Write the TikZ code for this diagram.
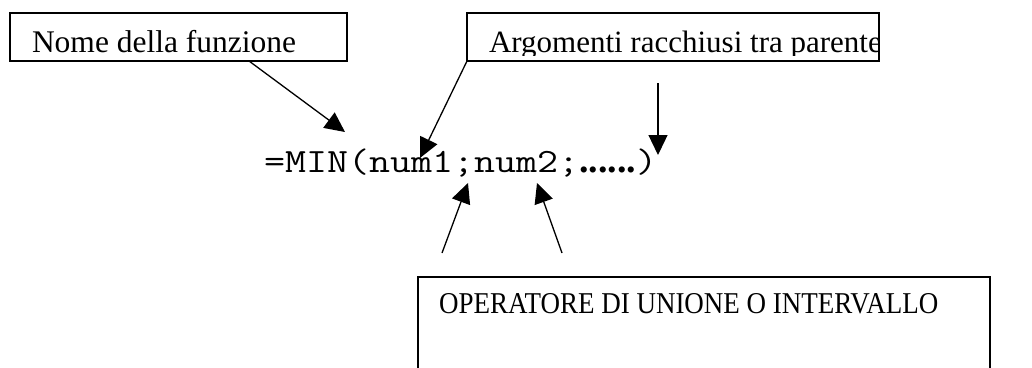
\documentclass[tikz,border=0pt]{standalone}
\usepackage{fontspec}
\setmainfont{Liberation Serif}
\usetikzlibrary{arrows.meta}
\begin{document}
\begin{tikzpicture}[x=1pt,y=-1pt,
  box/.style={draw,line width=1.4pt,inner sep=0pt,outer sep=0pt,anchor=north west},
  lbl/.style={anchor=base west,inner sep=0pt,outer sep=0pt},
  arr/.style={line width=1.3pt,-{Triangle[length=20pt,width=19pt]}}]
\useasboundingbox (0,0) rectangle (1032,367);
\clip (0,0) rectangle (1032,367);
\fill[white] (0,0) rectangle (1032,367);
% boxes
\node[box,minimum width=337pt,minimum height=48pt] (nome) at (10,13) {};
\node[box,minimum width=412pt,minimum height=48pt] (argo) at (467,13) {};
\node[box,minimum width=572pt,minimum height=130pt] (oper) at (418,277) {};
% box texts (clipped by the boxes)
\begin{scope}
  \clip (10,13) rectangle (346,54);
  \node[lbl] (nomet) at (32,52) {\fontsize{31.5}{36}\selectfont Nome della funzione};
\end{scope}
\begin{scope}
  \clip (467,13) rectangle (878,55);
  \node[lbl] (argot) at (489,52) {\fontsize{31}{36}\selectfont Argomenti racchiusi tra parentesi};
\end{scope}
\node[lbl] (opert) at (439,313) {\scalebox{1}[1.12]{\fontsize{27}{32}\selectfont OPERATORE DI UNIONE O INTERVALLO}};
% formula
\node[lbl] (form) at (264,172) {\scalebox{1.2}[1]{\fontsize{34}{40}\selectfont\ttfamily =MIN(num1;num2;}{\fontsize{38}{40}\selectfont\bfseries ......}\scalebox{1.2}[1]{\fontsize{34}{40}\selectfont\ttfamily )}};
% connector points
\coordinate (a1) at (249,61);
\coordinate (t1) at (345,132);
\coordinate (a2) at (467,61);
\coordinate (t2) at (420,158);
\coordinate (a3) at (658,83);
\coordinate (t3) at (658,155);
\coordinate (a4) at (442,253);
\coordinate (t4) at (468,183);
\coordinate (a5) at (562,253);
\coordinate (t5) at (537,183);
\draw[arr] (a1) -- (t1);
\draw[arr] (a2) -- (t2);
\draw[arr] (a3) -- (t3);
\draw[arr] (a4) -- (t4);
\draw[arr] (a5) -- (t5);
\end{tikzpicture}
\end{document}
